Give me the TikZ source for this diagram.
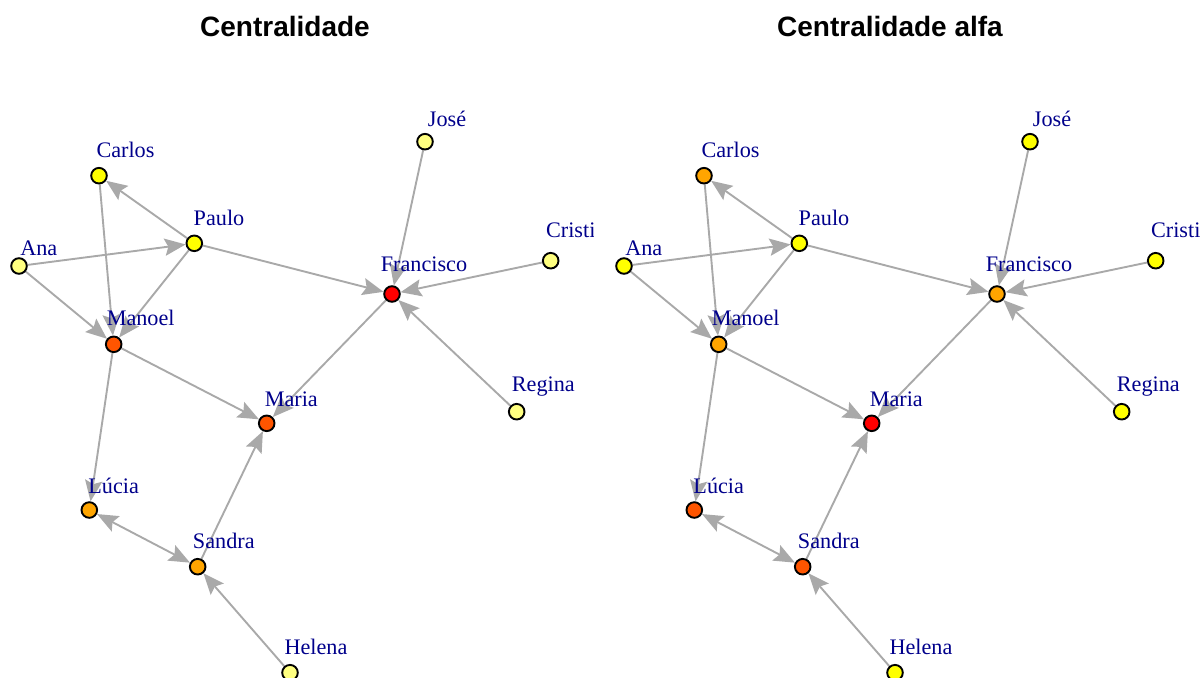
\documentclass[tikz,border=0pt]{standalone}
\usepackage{fontspec}
\setmainfont{Liberation Serif}
\newfontfamily\titlefont{Liberation Sans}
\usetikzlibrary{arrows.meta}
\pgfdeclarelayer{edges}
\pgfsetlayers{edges,main}

\definecolor{hRed}{HTML}{FF0000}
\definecolor{hOrRed}{HTML}{FF5500}
\definecolor{hOrange}{HTML}{FFA500}
\definecolor{hYellow}{HTML}{FFFF00}
\definecolor{hPale}{HTML}{FFFF80}
\definecolor{labblue}{HTML}{00008B}
\definecolor{edgegray}{HTML}{A9A9A9}

\tikzset{
  vtx/.style={circle, draw=black, line width=0.95pt, minimum size=7.8pt, inner sep=0pt},
  lab/.style={text=labblue, font=\fontsize{11.1}{13}\selectfont, anchor=base, inner sep=0pt},
  head/.tip={Stealth[length=10.5pt, width=8.6pt, inset=1.8pt, fill=edgegray]},
  link/.style={draw=edgegray, line width=0.95pt, -head},
  twoway/.style={draw=edgegray, line width=0.95pt, head-head},
  heading/.style={font=\titlefont\bfseries\fontsize{14}{16}\selectfont, anchor=base, inner sep=0pt}
}

% One network panel; #1 = name prefix, #2 = title
\newcommand\netpanel[2]{%
  \node[heading] (#1title) at (285,36) {#2};
  % vertices
  \node[vtx, fill=cAna]       (#1Ana)       at (19,266)      {};
  \node[vtx, fill=cCarlos]    (#1Carlos)    at (99,175.7)    {};
  \node[vtx, fill=cPaulo]     (#1Paulo)     at (194.3,243.3) {};
  \node[vtx, fill=cManoel]    (#1Manoel)    at (113.7,344.3) {};
  \node[vtx, fill=cJose]      (#1Jose)      at (425,141.7)   {};
  \node[vtx, fill=cCristina]  (#1Cristina)  at (550.7,260.7) {};
  \node[vtx, fill=cFrancisco] (#1Francisco) at (392,294)     {};
  \node[vtx, fill=cRegina]    (#1Regina)    at (516.7,411.7) {};
  \node[vtx, fill=cMaria]     (#1Maria)     at (266.7,423.3) {};
  \node[vtx, fill=cLucia]     (#1Lucia)     at (89.3,510)    {};
  \node[vtx, fill=cSandra]    (#1Sandra)    at (197.7,566.7) {};
  \node[vtx, fill=cHelena]    (#1Helena)    at (290,672.7)   {};
  % vertex labels
  \node[lab] (#1Ana-l)       at (38.8,255)    {Ana};
  \node[lab] (#1Carlos-l)    at (125.5,157)   {Carlos};
  \node[lab] (#1Paulo-l)     at (219,225)     {Paulo};
  \node[lab] (#1Manoel-l)    at (140.7,325)   {Manoel};
  \node[lab] (#1Jose-l)      at (447,126.7)   {José};
  \node[lab, anchor=base west] (#1Cristina-l) at (545.7,237.7) {Cristi};
  \node[lab] (#1Francisco-l) at (424,271)     {Francisco};
  \node[lab] (#1Regina-l)    at (543.3,391)   {Regina};
  \node[lab] (#1Maria-l)     at (291.3,406)   {Maria};
  \node[lab] (#1Lucia-l)     at (113.7,493.3) {Lúcia};
  \node[lab] (#1Sandra-l)    at (223.8,548.3) {Sandra};
  \node[lab] (#1Helena-l)    at (316,654)     {Helena};
  % directed edges, drawn beneath vertices and labels
  \begin{pgfonlayer}{edges}
    \draw[link] (#1Paulo) -- (#1Carlos);
    \draw[link] (#1Ana) -- (#1Paulo);
    \draw[link] (#1Ana) -- (#1Manoel);
    \draw[link] (#1Carlos) -- (#1Manoel);
    \draw[link] (#1Paulo) -- (#1Manoel);
    \draw[link] (#1Paulo) -- (#1Francisco);
    \draw[link] (#1Jose) -- (#1Francisco);
    \draw[link] (#1Cristina) -- (#1Francisco);
    \draw[link] (#1Regina) -- (#1Francisco);
    \draw[link] (#1Francisco) -- (#1Maria);
    \draw[link] (#1Manoel) -- (#1Maria);
    \draw[link] (#1Manoel) -- (#1Lucia);
    \draw[twoway] (#1Lucia) -- (#1Sandra);
    \draw[link] (#1Sandra) -- (#1Maria);
    \draw[link] (#1Helena) -- (#1Sandra);
  \end{pgfonlayer}
}

\begin{document}
\begin{tikzpicture}[x=0.5pt, y=-0.5pt]
  \useasboundingbox (0,0) rectangle (1200,677);
  \clip (0,0) rectangle (1200,677);
  % degree centrality
  \begin{scope}
    \clip (0,0) rectangle (593,677);
    \colorlet{cAna}{hPale}\colorlet{cCarlos}{hYellow}\colorlet{cPaulo}{hYellow}
    \colorlet{cManoel}{hOrRed}\colorlet{cJose}{hPale}\colorlet{cCristina}{hPale}
    \colorlet{cFrancisco}{hRed}\colorlet{cRegina}{hPale}\colorlet{cMaria}{hOrRed}
    \colorlet{cLucia}{hOrange}\colorlet{cSandra}{hOrange}\colorlet{cHelena}{hPale}
    \netpanel{A}{Centralidade}
  \end{scope}
  % alpha centrality
  \begin{scope}[xshift=302.5pt]
    \colorlet{cAna}{hYellow}\colorlet{cCarlos}{hOrange}\colorlet{cPaulo}{hYellow}
    \colorlet{cManoel}{hOrange}\colorlet{cJose}{hYellow}\colorlet{cCristina}{hYellow}
    \colorlet{cFrancisco}{hOrange}\colorlet{cRegina}{hYellow}\colorlet{cMaria}{hRed}
    \colorlet{cLucia}{hOrRed}\colorlet{cSandra}{hOrRed}\colorlet{cHelena}{hYellow}
    \netpanel{B}{Centralidade alfa}
  \end{scope}
\end{tikzpicture}
\end{document}
